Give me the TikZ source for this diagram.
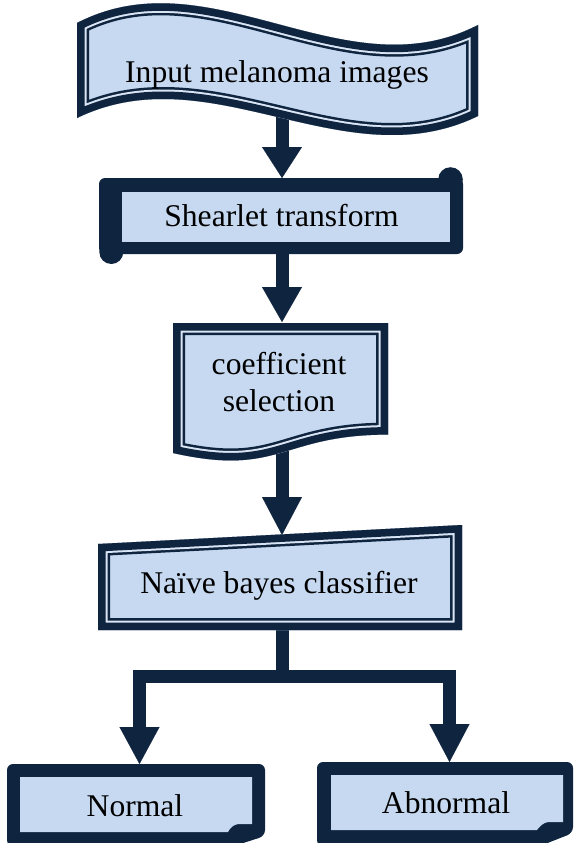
\documentclass[tikz,border=0pt]{standalone}
\usepackage{fontspec}
\setmainfont{Liberation Serif}
\usetikzlibrary{arrows.meta}
\definecolor{navy}{HTML}{0F243E}
\definecolor{pale}{HTML}{C6D9F1}
\definecolor{gapc}{HTML}{D9E5F5}
\newcommand{\wavepath}{(77,23) .. controls (210.7,-46) and (344.3,94) .. (478,25) -- (478,116) .. controls (344.3,181) and (210.7,53) .. (77,118) -- cycle}
\newcommand{\docpath}{(173,323) -- (388,323) -- (388,434.6) .. controls (280.5,434.6) and (280.5,477.2) .. (173,453) -- cycle}
\newcommand{\manpath}{(98,544) -- (462,525) -- (462,630) -- (98,630) -- cycle}
\newcommand{\compound}[1]{%
  \fill[pale] #1;
  \begin{scope}
    \clip #1;
    \draw[navy, line width=24pt] #1;
    \draw[gapc, line width=19pt] #1;
    \draw[navy, line width=15pt] #1;
  \end{scope}}
\tikzset{
  conn/.style={draw=navy, line width=13pt, line join=miter,
    -{Triangle[width=40pt, length=35pt, line width=0.1pt]}},
  bar/.style={draw=navy, line width=13pt, line join=miter},
  lbl/.style={font=\fontsize{31.6}{37}\selectfont, text=black, anchor=base,
    align=center, inner sep=0pt},
}
\begin{document}
\begin{tikzpicture}[x=1pt, y=-1pt]
\useasboundingbox (0,0) rectangle (573,843);
% connector end points
\coordinate (in-s) at (282,116);
\coordinate (st-n) at (282,178);
\coordinate (st-s) at (282,250);
\coordinate (cs-n) at (282,322);
\coordinate (cs-s) at (282,450);
\coordinate (nb-n) at (282,535);
\coordinate (nb-s) at (282,628);
\coordinate (split) at (282,676);
\coordinate (nm-n) at (139.5,764);
\coordinate (ab-n) at (449.5,762);
% connectors
\draw[conn, -{Triangle[width=40pt, length=31pt, line width=0.1pt]}] (in-s) -- (st-n);
\draw[conn] (st-s) -- (cs-n);
\draw[conn, -{Triangle[width=40pt, length=38pt, line width=0.1pt]}] (cs-s) -- (nb-n);
\draw[bar] (nb-s) -- (split);
\draw[conn, -{Triangle[width=40pt, length=37pt, line width=0.1pt]}] (split) -| (nm-n);
\draw[conn, -{Triangle[width=40pt, length=38pt, line width=0.1pt]}] (split) -| (ab-n);
% shapes
\compound{\wavepath}
\fill[navy, rounded corners=6pt] (99,178) rectangle (463,254);
\fill[navy] (450.5,179.5) circle (12.3);
\fill[navy] (111.3,252) circle (12);
\fill[pale] (122,192) rectangle (450,242);
\compound{\docpath}
\compound{\manpath}
\fill[navy, rounded corners=6pt] (7,846) -- (7,764) -- (265,764) -- (265,836) -- (234,846) -- cycle;
\fill[pale] (20,777) -- (252,777) -- (252,824) -- (238,824) .. controls (233,825) and (230,828) .. (228,832) -- (20,832) -- cycle;
\fill[navy, rounded corners=6pt] (317,846) -- (317,762) -- (573,762) -- (573,833) -- (540,846) -- cycle;
\fill[pale] (331,775) -- (563,775) -- (563,822) -- (548,822) .. controls (543,823) and (540,826) .. (537,830) -- (331,830) -- cycle;
% labels
\node[lbl] (in1) at (277,82) {Input melanoma images};
\node[lbl] (st) at (281.5,226.7) {Shearlet transform};
\node[lbl] (cs) at (279,411) {coefficient\\selection};
\node[lbl] (nb) at (279,593.3) {Naïve bayes classifier};
\node[lbl] (nm) at (135,816) {Normal};
\node[lbl] (ab) at (446,813.3) {Abnormal};
\end{tikzpicture}
\end{document}
